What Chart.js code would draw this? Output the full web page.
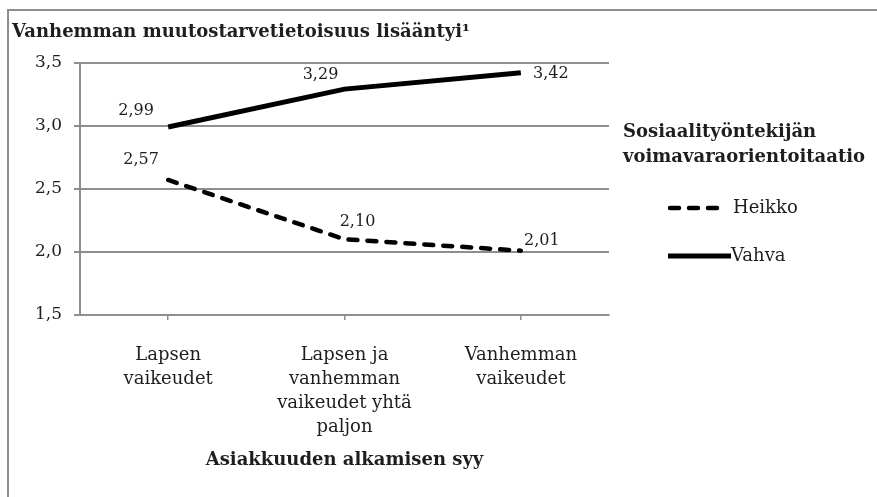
<!DOCTYPE html>
<html lang="fi">
<head>
<meta charset="utf-8">
<title>Vanhemman muutostarvetietoisuus</title>
<script src="https://cdn.jsdelivr.net/npm/chart.js@4/dist/chart.umd.min.js"></script>
<style>
    html, body { margin: 0; padding: 0; background: #fff; }
    #frame {
        position: absolute; left: 7px; top: 9px; width: 900px; height: 520px;
        border-left: 2px solid #8e8e8e; border-top: 2px solid #8e8e8e;
    }
    #wrap { position: absolute; left: 0; top: 0; width: 877px; height: 497px; }
</style>
</head>
<body>
<div id="frame"></div>
<div id="wrap"><canvas id="lineChart" width="877" height="497"></canvas></div>
<script>
// ========================================
// DATA
// ========================================
const categories = [
    ['Lapsen', 'vaikeudet'],
    ['Lapsen ja', 'vanhemman', 'vaikeudet yhtä', 'paljon'],
    ['Vanhemman', 'vaikeudet']
];
const heikkoValues = [2.57, 2.10, 2.01];
const vahvaValues = [2.99, 3.29, 3.42];
const seriesNames = ['Heikko', 'Vahva'];
const yTicks = [1.5, 2.0, 2.5, 3.0, 3.5];

const chartTitle = 'Vanhemman muutostarvetietoisuus lisääntyi¹';
const xTitle = 'Asiakkuuden alkamisen syy';
const legendTitle = ['Sosiaalityöntekijän', 'voimavaraorientoitaatio'];

// label offsets from the point (px), per series
const labelOffsets = [
    [[-27, -20], [13, -17], [21, -10]],
    [[-32, -16], [-24, -14], [30, 1]]
];

const FONT = "'DejaVu Serif', serif";
const TEXT = '#1e1e1e';
const GRID = '#8e8e8e';

function fmt(v, d) {
    return v.toFixed(d).replace('.', ',');
}

// ========================================
// DATA LABELS PLUGIN
// ========================================
const valueLabels = {
    id: 'valueLabels',
    afterDatasetsDraw(chart) {
        const ctx = chart.ctx;
        ctx.save();
        ctx.font = '16px ' + FONT;
        ctx.fillStyle = TEXT;
        ctx.textAlign = 'center';
        ctx.textBaseline = 'middle';
        chart.data.datasets.forEach((ds, i) => {
            chart.getDatasetMeta(i).data.forEach((pt, j) => {
                const off = labelOffsets[i][j];
                ctx.fillText(fmt(ds.data[j], 2), pt.x + off[0], pt.y + off[1]);
            });
        });
        ctx.restore();
    }
};

// ========================================
// LEGEND PLUGIN (right side)
// ========================================
const sideLegend = {
    id: 'sideLegend',
    afterDraw(chart) {
        const ctx = chart.ctx;
        const x0 = 623;
        ctx.save();
        ctx.fillStyle = TEXT;
        ctx.textBaseline = 'middle';
        ctx.font = 'bold 18px ' + FONT;
        ctx.fillText(legendTitle[0], x0, 132);
        ctx.fillText(legendTitle[1], x0, 157);

        const rows = [208, 256];
        chart.data.datasets.forEach((ds, i) => {
            const y = rows[i];
            const dashed = ds.borderDash.length > 0;
            ctx.beginPath();
            ctx.strokeStyle = ds.borderColor;
            ctx.lineWidth = ds.borderWidth;
            ctx.lineCap = dashed ? 'round' : 'butt';
            ctx.setLineDash(ds.borderDash);
            ctx.moveTo(dashed ? 670 : 668, y);
            ctx.lineTo(dashed ? 722 : 731, y);
            ctx.stroke();
            ctx.setLineDash([]);
            ctx.font = '18px ' + FONT;
            ctx.fillText(ds.label, dashed ? 733 : 731, y);
        });
        ctx.restore();
    }
};

// ========================================
// BUILD CHART
// ========================================
const ctx = document.getElementById('lineChart').getContext('2d');

const lineChart = new Chart(ctx, {
    type: 'line',
    data: {
        labels: categories,
        datasets: [
            {
                label: seriesNames[0],
                data: heikkoValues,
                borderColor: '#000',
                borderWidth: 4.5,
                borderDash: [9, 10],
                borderCapStyle: 'round',
                pointRadius: 0,
                tension: 0
            },
            {
                label: seriesNames[1],
                data: vahvaValues,
                borderColor: '#000',
                borderWidth: 5,
                borderDash: [],
                pointRadius: 0,
                tension: 0
            }
        ]
    },
    options: {
        responsive: false,
        animation: false,
        layout: {
            padding: { left: 12, right: 268, top: 22, bottom: 22 }
        },
        plugins: {
            legend: { display: false },
            tooltip: { enabled: false },
            title: {
                display: true,
                text: chartTitle,
                align: 'start',
                color: TEXT,
                font: { family: FONT, size: 18, weight: 'bold' },
                padding: { top: 0, bottom: 19 }
            }
        },
        scales: {
            x: {
                offset: true,
                afterFit(scale) { scale.height = 160; },
                grid: {
                    drawOnChartArea: false,
                    drawTicks: true,
                    tickLength: 5,
                    color: GRID,
                    lineWidth: 1.5
                },
                border: { display: true, color: GRID, width: 2 },
                ticks: {
                    color: TEXT,
                    font: { family: FONT, size: 18, lineHeight: 1.333 },
                    maxRotation: 0,
                    autoSkip: false,
                    padding: 23
                },
                title: {
                    display: true,
                    text: xTitle,
                    color: TEXT,
                    font: { family: FONT, size: 18, weight: 'bold' },
                    padding: { top: 0, bottom: 4 }
                }
            },
            y: {
                min: 1.5,
                max: 3.5,
                afterFit(scale) { scale.width = 68; },
                afterBuildTicks(scale) {
                    scale.ticks = yTicks.map(v => ({ value: v }));
                },
                grid: {
                    drawTicks: true,
                    tickLength: 6,
                    color: GRID,
                    lineWidth: 2
                },
                border: { display: true, color: GRID, width: 2 },
                ticks: {
                    color: TEXT,
                    font: { family: FONT, size: 17 },
                    padding: 12,
                    callback: function(value) {
                        return fmt(value, 1);
                    }
                }
            }
        }
    },
    plugins: [valueLabels, sideLegend]
});
</script>
</body>
</html>
